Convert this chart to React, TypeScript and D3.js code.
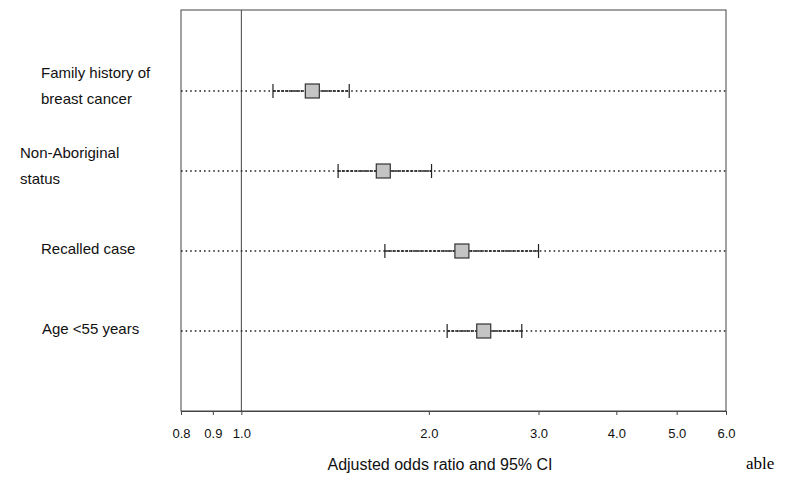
import React, { useEffect, useRef } from 'react';
import * as d3 from 'd3';

const labels = [
  ['Family history of', 'breast cancer'],
  ['Non-Aboriginal', 'status'],
  ['Recalled case'],
  ['Age <55 years'],
];
const oddsRatio = [1.3, 1.69, 2.26, 2.45];
const ciLow = [1.124, 1.43, 1.7, 2.14];
const ciHigh = [1.49, 2.02, 3.0, 2.82];
const tickValues = [0.8, 0.9, 1.0, 2.0, 3.0, 4.0, 5.0, 6.0];

const W = 808;
const H = 491;
const LEFT = 181;
const RIGHT = 726;
const TOP = 10;
const BOTTOM = 411;
const FONT = 'Liberation Sans, Arial, sans-serif';

const App: React.FC = () => {
  const ref = useRef<SVGSVGElement>(null);

  useEffect(() => {
    if (!ref.current) return;
    const svg = d3.select(ref.current);
    svg.selectAll('*').remove();

    const x = d3.scaleLog().domain([0.8, 6.0]).range([LEFT, RIGHT]);
    const y = d3.scalePoint<number>().domain(d3.range(4)).range([91, 331]);

    svg.append('rect').attr('x', LEFT).attr('y', TOP)
      .attr('width', RIGHT - LEFT).attr('height', BOTTOM - TOP)
      .attr('fill', 'none').attr('stroke', '#444').attr('stroke-width', 1);

    svg.append('line').attr('x1', x(1)).attr('x2', x(1))
      .attr('y1', TOP).attr('y2', BOTTOM).attr('stroke', '#444');

    const axis = svg.append('g').attr('transform', `translate(0,${BOTTOM})`)
      .call(d3.axisBottom(x).tickValues(tickValues).tickFormat(d3.format('.1f')).tickSize(4).tickPadding(14));
    axis.select('.domain').attr('stroke', '#444');
    axis.selectAll('.tick line').attr('stroke', '#444');
    axis.selectAll('text').style('font-family', FONT).style('font-size', '13px').attr('fill', '#111');

    svg.append('text').attr('x', 440).attr('y', 470).attr('text-anchor', 'middle')
      .style('font-family', FONT).style('font-size', '16px').attr('fill', '#111')
      .text('Adjusted odds ratio and 95% CI');

    svg.append('text').attr('x', 746).attr('y', 469)
      .style('font-family', 'Liberation Serif, Times New Roman, serif').style('font-size', '17px')
      .attr('fill', '#000').text('able');

    oddsRatio.forEach((or, i) => {
      const cy = y(i) as number;
      svg.append('line').attr('x1', LEFT).attr('x2', RIGHT).attr('y1', cy).attr('y2', cy)
        .attr('stroke', '#222').attr('stroke-width', 1.6).attr('stroke-dasharray', '1.6,3');
      svg.append('line').attr('x1', x(ciLow[i])).attr('x2', x(ciHigh[i])).attr('y1', cy).attr('y2', cy)
        .attr('stroke', '#222').attr('stroke-width', 1.6).attr('stroke-dasharray', '3,1');
      [ciLow[i], ciHigh[i]].forEach(v => {
        svg.append('line').attr('x1', x(v)).attr('x2', x(v)).attr('y1', cy - 7).attr('y2', cy + 7)
          .attr('stroke', '#222').attr('stroke-width', 1.2);
      });
      svg.append('rect').attr('x', x(or) - 7).attr('y', cy - 7).attr('width', 14).attr('height', 14)
        .attr('fill', '#c4c4c4').attr('stroke', '#333').attr('stroke-width', 1.2);

      const lines = labels[i];
      const t = svg.append('text').style('font-family', FONT).style('font-size', '15px').attr('fill', '#111');
      if (lines.length === 2) {
        const lx = i === 0 ? 41 : 20;
        t.append('tspan').attr('x', lx).attr('y', cy - 13).text(lines[0]);
        t.append('tspan').attr('x', lx).attr('y', cy + 13).text(lines[1]);
      } else {
        t.append('tspan').attr('x', i === 2 ? 41 : 42).attr('y', cy + 3).text(lines[0]);
      }
    });
  }, []);

  return <svg ref={ref} width={W} height={H} style={{ position: 'absolute', left: 0, top: 0 }} />;
};

export default App;
